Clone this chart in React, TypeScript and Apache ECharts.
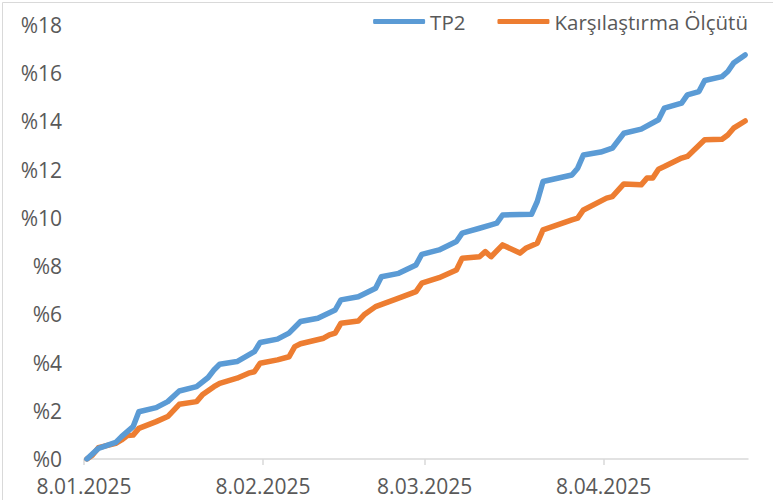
import React, { useEffect, useRef } from "react";
import * as echarts from "echarts";

const tp2Dates = [
  "2025-01-08", "2025-01-10", "2025-01-13", "2025-01-14", "2025-01-16", "2025-01-17",
  "2025-01-20", "2025-01-22", "2025-01-24", "2025-01-27", "2025-01-29", "2025-01-30",
  "2025-01-31", "2025-02-03", "2025-02-06", "2025-02-07", "2025-02-10", "2025-02-12",
  "2025-02-14", "2025-02-17", "2025-02-20", "2025-02-21", "2025-02-24", "2025-02-27",
  "2025-02-28", "2025-03-03", "2025-03-06", "2025-03-07", "2025-03-10", "2025-03-13",
  "2025-03-14", "2025-03-17", "2025-03-19", "2025-03-20", "2025-03-21", "2025-03-26",
  "2025-03-27", "2025-03-28", "2025-04-02", "2025-04-03", "2025-04-04", "2025-04-07",
  "2025-04-09", "2025-04-11", "2025-04-14", "2025-04-17", "2025-04-18", "2025-04-21",
  "2025-04-22", "2025-04-24", "2025-04-25", "2025-04-28", "2025-04-29", "2025-04-30",
  "2025-05-02",
];
const tp2Values = [
  0, 0.44, 0.69, 0.93, 1.34, 1.96,
  2.13, 2.38, 2.82, 3.0, 3.38, 3.69,
  3.93, 4.04, 4.45, 4.83, 4.97, 5.22,
  5.7, 5.84, 6.18, 6.6, 6.73, 7.08,
  7.56, 7.7, 8.05, 8.49, 8.67, 9.02,
  9.37, 9.57, 9.71, 9.78, 10.12, 10.15,
  10.68, 11.51, 11.78, 12.06, 12.61, 12.73,
  12.89, 13.51, 13.68, 14.07, 14.55, 14.76,
  15.1, 15.24, 15.7, 15.86, 16.07, 16.42,
  16.76,
];

const benchDates = [
  "2025-01-08", "2025-01-09", "2025-01-10", "2025-01-13", "2025-01-14", "2025-01-15",
  "2025-01-16", "2025-01-17", "2025-01-20", "2025-01-22", "2025-01-24", "2025-01-27",
  "2025-01-28", "2025-01-30", "2025-01-31", "2025-02-03", "2025-02-05", "2025-02-06",
  "2025-02-07", "2025-02-10", "2025-02-12", "2025-02-13", "2025-02-14", "2025-02-18",
  "2025-02-19", "2025-02-20", "2025-02-21", "2025-02-24", "2025-02-25", "2025-02-27",
  "2025-03-03", "2025-03-06", "2025-03-07", "2025-03-10", "2025-03-13", "2025-03-14",
  "2025-03-17", "2025-03-18", "2025-03-19", "2025-03-21", "2025-03-24", "2025-03-25",
  "2025-03-27", "2025-03-28", "2025-04-02", "2025-04-03", "2025-04-04", "2025-04-08",
  "2025-04-09", "2025-04-11", "2025-04-14", "2025-04-15", "2025-04-16", "2025-04-17",
  "2025-04-18", "2025-04-21", "2025-04-22", "2025-04-25", "2025-04-28", "2025-04-29",
  "2025-04-30", "2025-05-02",
];
const benchValues = [
  0, 0.17, 0.47, 0.65, 0.79, 0.97,
  0.99, 1.27, 1.55, 1.76, 2.27, 2.38,
  2.66, 3.0, 3.14, 3.35, 3.56, 3.62,
  3.97, 4.11, 4.24, 4.66, 4.78, 5.01,
  5.15, 5.22, 5.63, 5.72, 5.98, 6.32,
  6.67, 6.94, 7.29, 7.52, 7.84, 8.33,
  8.39, 8.6, 8.39, 8.88, 8.54, 8.74,
  8.95, 9.5, 9.92, 9.99, 10.33, 10.82,
  10.88, 11.41, 11.37, 11.65, 11.65, 12.02,
  12.13, 12.48, 12.55, 13.24, 13.26, 13.44,
  13.72, 14.02,
];

const tickDates = ["2025-01-08", "2025-02-08", "2025-03-08", "2025-04-08"];
const tickLabels = ["8.01.2025", "8.02.2025", "8.03.2025", "8.04.2025"];
const axisStart = "2025-01-08";
const axisEnd = "2025-05-03";
const yTicks = { min: 0, max: 18, step: 2 };

const seriesNames = ["TP2", "Karşılaştırma Ölçütü"];

const DAY = 86400000;
const toMs = (s: string) => {
  const [y, m, d] = s.split("-").map(Number);
  return Date.UTC(y, m - 1, d);
};
const dayOf = (s: string) => (toMs(s) - toMs(axisStart)) / DAY;

export default function App() {
  const ref = useRef<HTMLDivElement>(null);
  useEffect(() => {
    document.body.style.margin = "0";
    if (!ref.current) return;
    const chart = echarts.init(ref.current, null, { renderer: "svg" });
    const tickDays = tickDates.map(dayOf);
    const labelFor = (v: number) => {
      const i = tickDays.findIndex((t) => Math.abs(t - v) < 1e-6);
      return i >= 0 ? tickLabels[i] : "";
    };
    const font = "'Open Sans', 'Liberation Sans', sans-serif";
    chart.setOption({
      animation: false,
      backgroundColor: "#ffffff",
      graphic: [
        {
          type: "rect",
          shape: { x: 2.5, y: 2.5, width: 800, height: 600 },
          style: { fill: "none", stroke: "#D9D9D9", lineWidth: 1 },
          silent: true,
        },
      ],
      legend: {
        right: 20,
        top: 6,
        itemWidth: 52,
        itemHeight: 5,
        itemGap: 32,
        icon: "roundRect",
        textStyle: { fontFamily: font, fontSize: 20.5, color: "#595959" },
        data: seriesNames,
      },
      grid: { left: 84, right: 25, top: 25, bottom: 41 },
      xAxis: {
        type: "value",
        min: 0,
        max: dayOf(axisEnd),
        axisLine: { show: true, lineStyle: { color: "#D9D9D9", width: 1.5 } },
        axisTick: {
          show: true,
          customValues: tickDays,
          length: 6,
          lineStyle: { color: "#D9D9D9", width: 1.5 },
        },
        axisLabel: {
          customValues: tickDays,
          formatter: (v: number) => labelFor(v),
          fontFamily: font,
          fontSize: 21,
          color: "#595959",
          margin: 16,
        },
        splitLine: { show: false },
      },
      yAxis: {
        type: "value",
        min: yTicks.min,
        max: yTicks.max,
        interval: yTicks.step,
        axisLine: { show: false },
        axisTick: { show: false },
        splitLine: { show: false },
        axisLabel: {
          formatter: (v: number) => "%" + v,
          fontFamily: font,
          fontSize: 21,
          color: "#595959",
          margin: 22,
        },
      },
      series: [
        {
          name: seriesNames[0],
          type: "line",
          symbol: "none",
          data: tp2Dates.map((d, i) => [dayOf(d) + 0.5, tp2Values[i]]),
          lineStyle: { color: "#5B9BD5", width: 5.5, cap: "round", join: "round" },
          itemStyle: { color: "#5B9BD5" },
          z: 3,
        },
        {
          name: seriesNames[1],
          type: "line",
          symbol: "none",
          data: benchDates.map((d, i) => [dayOf(d) + 0.5, benchValues[i]]),
          lineStyle: { color: "#ED7D31", width: 5.5, cap: "round", join: "round" },
          itemStyle: { color: "#ED7D31" },
          z: 2,
        },
      ],
    });
    return () => chart.dispose();
  }, []);
  return <div ref={ref} style={{ width: 773, height: 500 }} />;
}
